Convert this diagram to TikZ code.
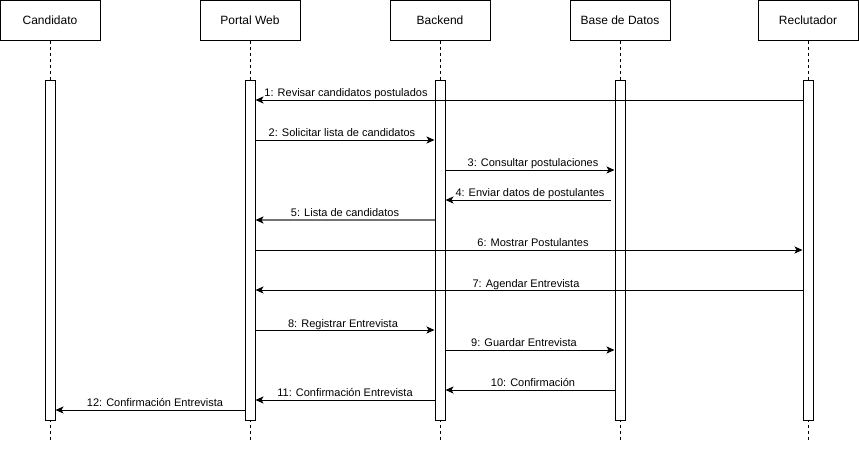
\documentclass[tikz,border=0pt]{standalone}
\usepackage{fontspec}
\setmainfont{Liberation Sans}
\usetikzlibrary{arrows.meta}
\begin{document}
\begin{tikzpicture}[x=1pt,y=-1pt,
  hdr/.style={draw=black,line width=1pt,fill=white,minimum width=100pt,minimum height=40pt,inner sep=0pt,font=\fontsize{12}{14}\selectfont},
  act/.style={draw=black,line width=1pt,fill=white,minimum width=10pt,minimum height=340pt,inner sep=0pt},
  life/.style={draw=black,line width=1pt,dash pattern=on 3pt off 3pt},
  msg/.style={draw=black,line width=1pt,-{Stealth[length=8pt,width=7pt,inset=2pt]}},
  lbl/.style={font=\fontsize{11}{13}\selectfont,anchor=base,inner sep=0pt}]
\useasboundingbox (0,0) rectangle (859,451);
% headers
\node[hdr] (cand) at (50,20) {Candidato};
\node[hdr] (portal) at (250,20) {Portal Web};
\node[hdr] (back) at (440,20) {Backend};
\node[hdr] (bd) at (620,20) {Base de Datos};
\node[hdr] (rec) at (808,20) {Reclutador};
% lifeline ends
\coordinate (candE) at (50,440);
\coordinate (portalE) at (250,440);
\coordinate (backE) at (440,440);
\coordinate (bdE) at (620,440);
\coordinate (recE) at (808,440);
\draw[life] (cand.south) -- (candE);
\draw[life] (portal.south) -- (portalE);
\draw[life] (back.south) -- (backE);
\draw[life] (bd.south) -- (bdE);
\draw[life] (rec.south) -- (recE);
% activations
\node[act] (aC) at (50,250) {};
\node[act] (aP) at (250,250) {};
\node[act] (aB) at (440,250) {};
\node[act] (aD) at (620,250) {};
\node[act] (aR) at (808,250) {};
% message endpoints
\coordinate (m1a) at (aR.west |- 0,100); \coordinate (m1b) at (aP.east |- 0,100);
\coordinate (m2a) at (aP.east |- 0,140); \coordinate (m2b) at (aB.west |- 0,140);
\coordinate (m3a) at (aB.east |- 0,170); \coordinate (m3b) at (aD.west |- 0,170);
\coordinate (m4a) at (611,200); \coordinate (m4b) at (aB.east |- 0,200);
\coordinate (m5a) at (aB.west |- 0,220); \coordinate (m5b) at (aP.east |- 0,220);
\coordinate (m6a) at (aP.east |- 0,250); \coordinate (m6b) at (aR.west |- 0,250);
\coordinate (m7a) at (aR.west |- 0,290); \coordinate (m7b) at (aP.east |- 0,290);
\coordinate (m8a) at (aP.east |- 0,330); \coordinate (m8b) at (aB.west |- 0,330);
\coordinate (m9a) at (aB.east |- 0,350); \coordinate (m9b) at (aD.west |- 0,350);
\coordinate (m10a) at (aD.west |- 0,390); \coordinate (m10b) at (aB.east |- 0,390);
\coordinate (m11a) at (aB.west |- 0,400); \coordinate (m11b) at (aP.east |- 0,400);
\coordinate (m12a) at (aP.west |- 0,410); \coordinate (m12b) at (aC.east |- 0,410);
\draw[msg] (m1a) -- (m1b);
\draw[msg] (m2a) -- (m2b);
\draw[msg] (m3a) -- (m3b);
\draw[msg] (m4a) -- (m4b);
\draw[draw=black!55,line width=1.5pt,-{Stealth[length=8pt,width=7pt,inset=2pt,black]}] (m5a) -- (m5b);
\draw[msg] (m6a) -- (m6b);
\draw[msg] (m7a) -- (m7b);
\draw[msg] (m8a) -- (m8b);
\draw[msg] (m9a) -- (m9b);
\draw[msg] (m10a) -- (m10b);
\draw[msg] (m11a) -- (m11b);
\draw[msg] (m12a) -- (m12b);
% labels
\node[lbl] (l1) at (346,96) {1: Revisar candidatos postulados};
\node[lbl] (l2) at (342,136) {2: Solicitar lista de candidatos};
\node[lbl] (l3) at (533,166) {3: Consultar postulaciones};
\node[lbl] (l4) at (530,196) {4: Enviar datos de postulantes};
\node[lbl] (l5) at (345,216) {5: Lista de candidatos};
\node[lbl] (l6) at (533,246) {6: Mostrar Postulantes};
\node[lbl] (l7) at (526,287) {7: Agendar Entrevista};
\node[lbl] (l8) at (343,327) {8: Registrar Entrevista};
\node[lbl] (l9) at (524,346) {9: Guardar Entrevista};
\node[lbl] (l10) at (533,386) {10: Confirmación};
\node[lbl] (l11) at (345,396) {11: Confirmación Entrevista};
\node[lbl] (l12) at (155,406) {12: Confirmación Entrevista};
\end{tikzpicture}
\end{document}
